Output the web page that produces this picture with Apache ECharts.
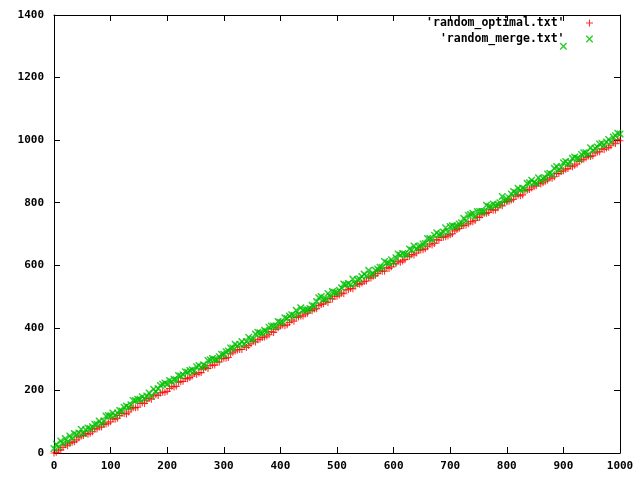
<!DOCTYPE html>
<html>
<head>
<meta charset="utf-8">
<script src="https://cdn.jsdelivr.net/npm/echarts@6/dist/echarts.min.js"></script>
<style>html,body{margin:0;padding:0;background:#fff}#c{width:640px;height:480px}</style>
</head>
<body>
<div id="c"></div>
<script>
const seriesNames = ["'random_optimal.txt'", "'random_merge.txt'"];

const xValues = [
0,4,8,12,16,20,24,28,32,36,
40,44,48,52,56,60,64,68,72,76,
80,84,88,92,96,100,104,108,112,116,
120,124,128,132,136,140,144,148,152,156,
160,164,168,172,176,180,184,188,192,196,
200,204,208,212,216,220,224,228,232,236,
240,244,248,252,256,260,264,268,272,276,
280,284,288,292,296,300,304,308,312,316,
320,324,328,332,336,340,344,348,352,356,
360,364,368,372,376,380,384,388,392,396,
400,404,408,412,416,420,424,428,432,436,
440,444,448,452,456,460,464,468,472,476,
480,484,488,492,496,500,504,508,512,516,
520,524,528,532,536,540,544,548,552,556,
560,564,568,572,576,580,584,588,592,596,
600,604,608,612,616,620,624,628,632,636,
640,644,648,652,656,660,664,668,672,676,
680,684,688,692,696,700,704,708,712,716,
720,724,728,732,736,740,744,748,752,756,
760,764,768,772,776,780,784,788,792,796,
800,804,808,812,816,820,824,828,832,836,
840,844,848,852,856,860,864,868,872,876,
880,884,888,892,896,900,904,908,912,916,
920,924,928,932,936,940,944,948,952,956,
960,964,968,972,976,980,984,988,992,996,
1000];

const optimalValues = [
0,2,9,10,18,26,23,31,34,36,
42,49,54,56,62,60,63,68,77,77,
83,83,91,93,96,100,109,108,111,120,
126,126,125,131,141,145,145,146,158,160,
158,167,174,172,182,186,184,192,194,194,
197,206,213,211,213,226,228,229,238,237,
241,246,254,251,256,257,268,273,270,279,
281,281,291,291,301,303,303,305,317,322,
326,329,331,331,341,337,344,349,357,355,
362,364,369,371,374,378,388,385,395,400,
406,409,407,410,417,425,421,433,435,438,
438,444,447,457,455,460,461,471,475,477,
484,481,494,492,501,501,505,511,509,522,
522,526,525,534,541,539,543,548,550,560,
559,566,568,574,582,581,581,593,590,595,
605,605,613,610,614,618,628,629,634,633,
639,649,649,650,653,659,668,665,670,682,
680,689,690,691,694,698,701,710,714,718,
726,727,729,733,739,739,743,754,753,761,
766,766,769,778,776,777,784,793,790,802,
803,805,809,811,821,825,822,825,838,840,
842,847,851,854,862,860,864,869,873,879,
878,883,893,893,900,902,907,909,917,915,
920,924,932,937,939,944,949,948,950,959,
962,963,972,970,975,977,982,994,989,1002,
998];

const mergeValues = [
14,28,20,38,30,46,36,54,46,62,
58,64,76,62,74,80,78,84,92,92,
102,94,102,118,120,118,128,120,128,136,
134,146,150,146,154,168,168,172,172,180,
174,182,192,182,204,196,206,216,220,224,
220,232,228,236,234,248,246,250,260,258,
264,266,262,276,280,274,282,278,296,298,
302,300,298,308,316,316,324,326,336,336,
348,342,348,356,348,356,370,362,364,380,
386,384,382,392,388,402,406,406,406,420,
418,418,432,430,438,442,440,456,444,464,
456,458,458,462,472,470,484,496,500,490,
492,510,500,516,514,512,520,528,540,538,
542,538,556,542,554,556,564,572,566,584,
570,574,584,588,594,594,612,608,606,618,
610,624,636,632,638,636,634,652,648,662,
652,660,662,668,670,686,686,682,696,704,
698,700,706,720,706,724,726,724,726,732,
736,750,742,760,762,766,754,772,772,772,
772,792,788,786,796,792,794,800,820,806,
812,816,828,836,832,846,840,846,844,862,
864,872,864,862,880,870,878,880,892,894,
890,910,916,904,914,928,932,924,930,942,
946,942,940,954,960,960,954,976,966,974,
978,988,990,984,994,1002,994,1010,1014,1022,
1020];

const mergeExtraX = [900];
const mergeExtraY = [1300];

const plusPath = 'path://M3.8,0h1.4v9h-1.4z M0,3.8h9v1.4h-9z';
const crossPath = 'path://M0,0 L1.4,0 L9,7.6 L9,9 L7.6,9 L0,1.4 Z M7.6,0 L9,0 L9,1.4 L1.4,9 L0,9 L0,7.6 Z';

const optimalData = xValues.map((x, i) => [x, optimalValues[i]]);
const mergeData = xValues.map((x, i) => [x, mergeValues[i]])
  .concat(mergeExtraX.map((x, i) => [x, mergeExtraY[i]]));

const font = {fontFamily: 'DejaVu Sans Mono', fontWeight: 'bold', fontSize: 11, color: '#000'};
const legendFont = {fontFamily: 'DejaVu Sans Mono', fontWeight: 'bold', fontSize: 11.5, color: '#000'};
const axisLine = {show: true, onZero: false, lineStyle: {color: '#000', width: 1}};
const tick = {show: true, inside: true, length: 6, lineStyle: {color: '#000'}};
const plain = v => String(v);

const chart = echarts.init(document.getElementById('c'), null, {renderer: 'canvas'});
chart.setOption({
  animation: false,
  backgroundColor: '#fff',
  grid: {left: 54, right: 20, top: 15, bottom: 27, containLabel: false},
  legend: {
    orient: 'vertical', right: 47, top: 17, padding: 0, align: 'right',
    itemWidth: 40, itemHeight: 7, itemGap: 4,
    textStyle: legendFont,
    data: [
      {name: seriesNames[0], icon: plusPath},
      {name: seriesNames[1], icon: crossPath}
    ]
  },
  xAxis: [
    {type: 'value', min: 0, max: 1000, interval: 100, position: 'bottom',
     axisLine: axisLine, axisTick: tick, splitLine: {show: false},
     axisLabel: Object.assign({margin: 8, formatter: plain}, font)},
    {type: 'value', min: 0, max: 1000, interval: 100, position: 'top',
     axisLine: axisLine, axisTick: tick, splitLine: {show: false}, axisLabel: {show: false}}
  ],
  yAxis: [
    {type: 'value', min: 0, max: 1400, interval: 200, position: 'left',
     axisLine: axisLine, axisTick: tick, splitLine: {show: false},
     axisLabel: Object.assign({margin: 10, formatter: plain}, font)},
    {type: 'value', min: 0, max: 1400, interval: 200, position: 'right',
     axisLine: axisLine, axisTick: tick, splitLine: {show: false}, axisLabel: {show: false}}
  ],
  series: [
    {name: seriesNames[0], type: 'scatter', xAxisIndex: 0, yAxisIndex: 0,
     symbol: plusPath, symbolSize: 7, itemStyle: {color: '#ff0000'},
     data: optimalData},
    {name: seriesNames[1], type: 'scatter', xAxisIndex: 0, yAxisIndex: 0,
     symbol: crossPath, symbolSize: 7, itemStyle: {color: '#00c000'},
     data: mergeData}
  ]
});
</script>
</body>
</html>
